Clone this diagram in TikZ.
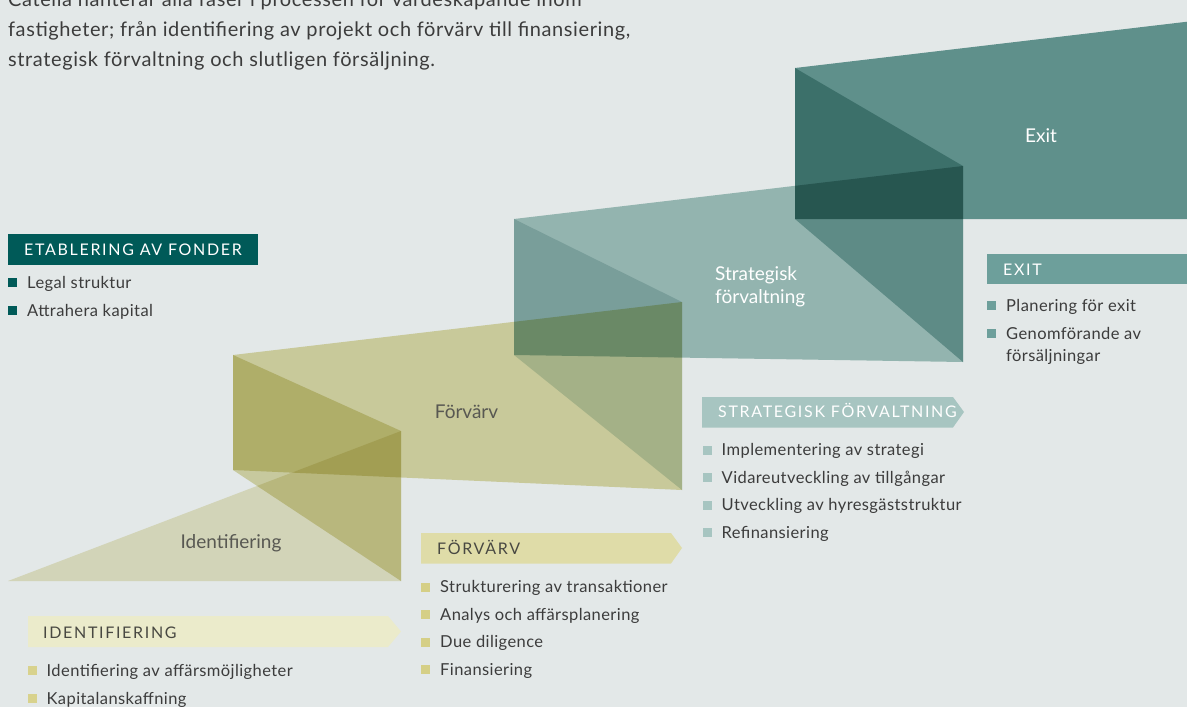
\documentclass[tikz,border=0pt]{standalone}
\usepackage{fontspec}
\setmainfont{Lato}
\definecolor{bgcol}{RGB}{227,232,232}
\definecolor{fondteal}{RGB}{0,90,88}
\definecolor{identbox}{RGB}{235,235,203}
\definecolor{identsq}{RGB}{216,210,141}
\definecolor{forvbox}{RGB}{223,220,168}
\definecolor{forvsq}{RGB}{213,207,134}
\definecolor{stratbox}{RGB}{167,197,193}
\definecolor{exitbox}{RGB}{109,159,155}
\definecolor{textgray}{RGB}{60,60,60}
\definecolor{capsgray}{RGB}{72,72,66}
\definecolor{labelgray}{RGB}{88,88,82}
% band colours, laid on with multiply
\definecolor{identface}{RGB}{237,234,203}
\definecolor{forvface}{RGB}{225,221,170}
\definecolor{forvside}{RGB}{224,221,174}
\definecolor{stratface}{RGB}{166,198,193}
\definecolor{stratside}{RGB}{210,225,225}
\definecolor{exitface}{RGB}{107,159,153}
\definecolor{exitside}{RGB}{164,198,196}

\newcommand{\capsfont}{\fontsize{16}{19}\selectfont\addfontfeatures{LetterSpace=10.5}}
\newcommand{\bulletsq}[3]{\fill[#1] (#2,#3-10) rectangle ++(9,9);}
\tikzset{
  band/.style={fill=#1, blend mode=multiply},
  bullettext/.style={anchor=base west, inner sep=0pt, text=textgray, font=\fontsize{16.5}{20}\selectfont\addfontfeatures{LetterSpace=2.5}},
  capstext/.style={anchor=base west, inner sep=0pt, font=\capsfont},
  shapelabel/.style={inner sep=0pt, font=\fontsize{19}{23}\selectfont},
  introtext/.style={anchor=base west, inner sep=0pt, text=textgray, font=\fontsize{20}{30}\selectfont\addfontfeatures{LetterSpace=3}},
}

\begin{document}
\begin{tikzpicture}[x=1pt, y=-1pt]
	%%%%% START %%%%%
	
	\fill[bgcol] (0,0) rectangle (1187,707);
	\useasboundingbox (0,0) rectangle (1187,707);
	
	% intro text
	\node[introtext] (intro1) at (8,6) {Catella hanterar alla faser i processen för värdeskapande inom};
	\node[introtext] (intro2) at (8,36) {fastigheter; från identifiering av projekt och förvärv till finansiering,};
	\node[introtext] (intro3) at (8,66) {strategisk förvaltning och slutligen försäljning.};
	
	% folded bands
	\fill[band=identface] (8,581) -- (401,431) -- (401,581) -- cycle;
	\fill[band=forvside] (233,355) -- (401,431) -- (401,581) -- (233,470) -- cycle;
	\fill[band=forvface] (233,355) -- (682,302) -- (682,490) -- (233,470) -- cycle;
	\fill[band=stratside] (514,219) -- (682,302) -- (682,490) -- (514,355) -- cycle;
	\fill[band=stratface] (514,219) -- (963,166) -- (963,362) -- (514,355) -- cycle;
	\fill[band=exitside] (795,68) -- (963,166) -- (963,362) -- (795,219) -- cycle;
	\fill[band=exitface] (795,68) -- (1244,15) -- (1244,219) -- (795,219) -- cycle;
	
	\node[shapelabel, anchor=base, text=labelgray] (identlabel) at (231,548.5) {Identifiering};
	\node[shapelabel, anchor=base, text=labelgray] (forvlabel) at (466.5,418) {Förvärv};
	\node[shapelabel, anchor=base west, text=white] (stratlabel1) at (715,280) {Strategisk};
	\node[shapelabel, anchor=base west, text=white] (stratlabel2) at (715,303) {förvaltning};
	\node[shapelabel, anchor=base, text=white] (exitlabel) at (1041,142) {Exit};
	
	% etablering av fonder
	\fill[fondteal] (8,234) rectangle (258,265);
	\node[capstext, text=white] (fondhead) at (24,255) {ETABLERING AV FONDER};
	\bulletsq{fondteal}{8}{288}
	\node[bullettext] (fond1) at (27,288) {Legal struktur};
	\bulletsq{fondteal}{8}{316}
	\node[bullettext] (fond2) at (27,316) {Attrahera kapital};
	
	% identifiering
	\fill[identbox] (28,616) -- (388,616) -- (401,631.5) -- (388,647) -- (28,647) -- cycle;
	\node[capstext, text=capsgray] (identhead) at (43,638) {IDENTIFIERING};
	\bulletsq{identsq}{28}{676}
	\node[bullettext] (ident1) at (46.5,676) {Identifiering av affärsmöjligheter};
	\bulletsq{identsq}{28}{704}
	\node[bullettext] (ident2) at (46.5,704) {Kapitalanskaffning};
	
	% förvärv
	\fill[forvbox] (421,533) -- (671,533) -- (682,548) -- (671,563.5) -- (421,563.5) -- cycle;
	\node[capstext, text=capsgray] (forvhead) at (437,554) {FÖRVÄRV};
	\bulletsq{forvsq}{421}{592.5}
	\node[bullettext] (forv1) at (440,592.5) {Strukturering av transaktioner};
	\bulletsq{forvsq}{421}{620}
	\node[bullettext] (forv2) at (440,620) {Analys och affärsplanering};
	\bulletsq{forvsq}{421}{647.5}
	\node[bullettext] (forv3) at (440,647.5) {Due diligence};
	\bulletsq{forvsq}{421}{675}
	\node[bullettext] (forv4) at (440,675) {Finansiering};
	
	% strategisk förvaltning
	\fill[stratbox] (702,397) -- (953,397) -- (964,412) -- (953,427.5) -- (702,427.5) -- cycle;
	\node[capstext, text=white] (strathead) at (718,417.5) {STRATEGISK FÖRVALTNING};
	\bulletsq{stratbox}{703}{455.5}
	\node[bullettext] (strat1) at (721.5,455.5) {Implementering av strategi};
	\bulletsq{stratbox}{703}{483}
	\node[bullettext] (strat2) at (721.5,483) {Vidareutveckling av tillgångar};
	\bulletsq{stratbox}{703}{510.5}
	\node[bullettext] (strat3) at (721.5,510.5) {Utveckling av hyresgäststruktur};
	\bulletsq{stratbox}{703}{538}
	\node[bullettext] (strat4) at (721.5,538) {Refinansiering};
	
	% exit
	\fill[exitbox] (987,253.5) rectangle (1190,283.5);
	\node[capstext, text=white] (exithead) at (1003,275) {EXIT};
	\bulletsq{exitbox}{987}{311}
	\node[bullettext] (exit1) at (1006,311) {Planering för exit};
	\bulletsq{exitbox}{987}{339}
	\node[bullettext] (exit2) at (1006,339) {Genomförande av};
	\node[bullettext] (exit3) at (1006,361.5) {försäljningar};
	
	%%%%% END %%%%%
\end{tikzpicture}
\end{document}
